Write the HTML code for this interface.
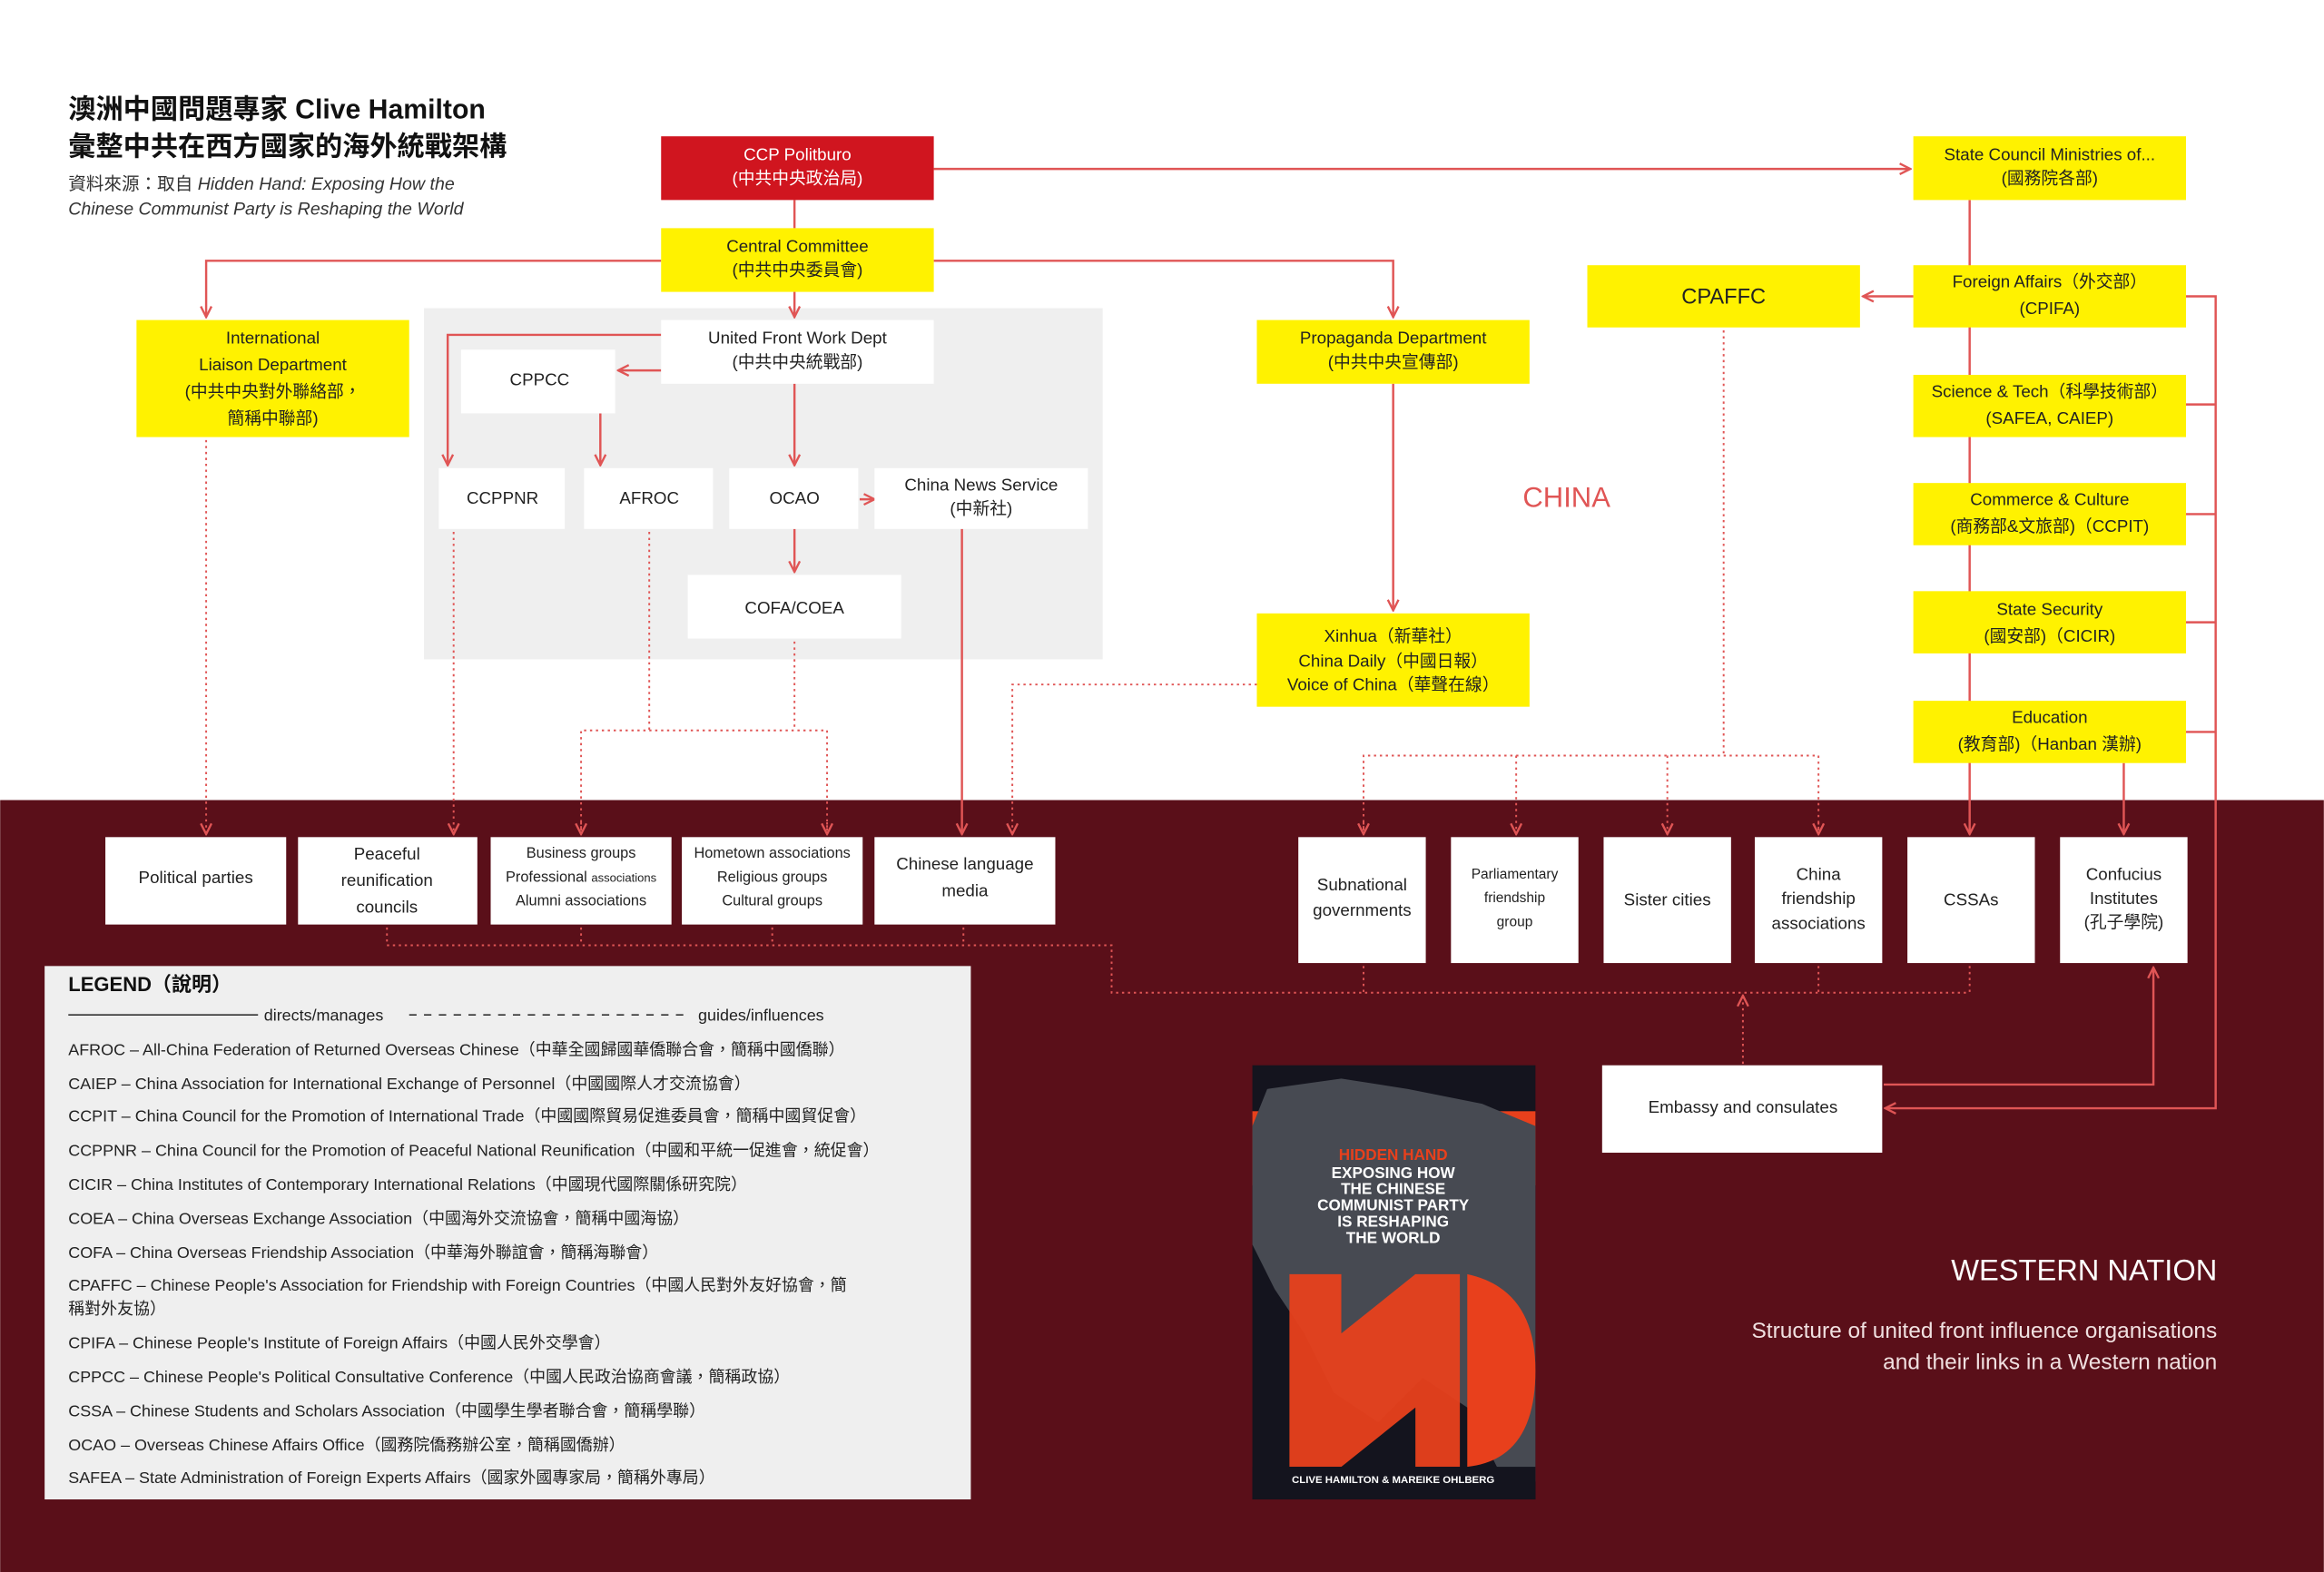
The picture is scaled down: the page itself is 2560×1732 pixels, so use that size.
<!DOCTYPE html>
<html><head><meta charset="utf-8"><style>
html,body{margin:0;padding:0;background:#fff}
svg{display:block}
text{font-family:"Liberation Sans","Noto Sans CJK TC",sans-serif}
</style></head><body>
<svg width="2560" height="1732" viewBox="0 0 1568 1061" xmlns="http://www.w3.org/2000/svg">
<defs>
<marker id="a" viewBox="0 0 10 10" refX="9" refY="5" markerWidth="9" markerHeight="9" markerUnits="userSpaceOnUse" orient="auto">
<polyline points="1,1 9,5 1,9" fill="none" stroke="#e05555" stroke-width="1.6"/></marker>
</defs>
<rect x="0" y="0" width="1568" height="540" fill="#fff"/>
<rect x="0" y="540" width="1568" height="521" fill="#5a0f19"/>
<!-- title -->
<text x="46" y="80" font-size="18.5" font-weight="bold" fill="#111">澳洲中國問題專家 Clive Hamilton</text>
<text x="46" y="105" font-size="18.5" font-weight="bold" fill="#111">彙整中共在西方國家的海外統戰架構</text>
<text x="46" y="128" font-size="12" fill="#333">資料來源：取自 <tspan font-style="italic">Hidden Hand: Exposing How the</tspan></text>
<text x="46" y="145" font-size="12" fill="#333" font-style="italic">Chinese Communist Party is Reshaping the World</text>
<!-- gray area -->
<rect x="286" y="208" width="458" height="237" fill="#efefef"/>
<g stroke="#e05555" stroke-width="1.5" fill="none">
<line x1="630" y1="114" x2="1289" y2="114" marker-end="url(#a)"/>
<line x1="536" y1="135" x2="536" y2="154"/>
<polyline points="446,176 139,176 139,214" marker-end="url(#a)"/>
<polyline points="630,176 940,176 940,214" marker-end="url(#a)"/>
<line x1="536" y1="197" x2="536" y2="214" marker-end="url(#a)"/>
<line x1="446" y1="250" x2="417" y2="250" marker-end="url(#a)"/>
<polyline points="446,226 302,226 302,314" marker-end="url(#a)"/>
<line x1="405" y1="279" x2="405" y2="314" marker-end="url(#a)"/>
<line x1="536" y1="259" x2="536" y2="314" marker-end="url(#a)"/>
<line x1="580" y1="337" x2="590" y2="337" marker-end="url(#a)"/>
<line x1="536" y1="357" x2="536" y2="386" marker-end="url(#a)"/>
<line x1="649" y1="357" x2="649" y2="563" marker-end="url(#a)"/>
<line x1="940" y1="259" x2="940" y2="412" marker-end="url(#a)"/>
<line x1="1329" y1="135" x2="1329" y2="563" marker-end="url(#a)"/>
<line x1="1291" y1="200" x2="1257" y2="200" marker-end="url(#a)"/>
<polyline points="1475,200 1495,200 1495,748 1272,748" marker-end="url(#a)"/>
<line x1="1475" y1="273" x2="1495" y2="273"/>
<line x1="1475" y1="347" x2="1495" y2="347"/>
<line x1="1475" y1="420" x2="1495" y2="420"/>
<line x1="1475" y1="494" x2="1495" y2="494"/>
<line x1="1433" y1="515" x2="1433" y2="563" marker-end="url(#a)"/>
<polyline points="1271,732 1453,732 1453,653" marker-end="url(#a)"/>
</g>
<g stroke="#e05555" stroke-width="1.2" fill="none" stroke-dasharray="1.5 2.5">
<line x1="139" y1="297" x2="139" y2="563" marker-end="url(#a)"/>
<line x1="306" y1="359" x2="306" y2="563" marker-end="url(#a)"/>
<line x1="438" y1="359" x2="438" y2="493"/>
<line x1="536" y1="433" x2="536" y2="493"/>
<polyline points="392,563 392,493 558,493 558,563"/>
<line x1="392" y1="555" x2="392" y2="563" marker-end="url(#a)"/>
<line x1="558" y1="555" x2="558" y2="563" marker-end="url(#a)"/>
<polyline points="848,462 683,462 683,563" marker-end="url(#a)"/>
<line x1="1163" y1="223" x2="1163" y2="510"/>
<polyline points="920,563 920,510 1227,510 1227,563"/>
<line x1="920" y1="555" x2="920" y2="563" marker-end="url(#a)"/>
<line x1="1023" y1="510" x2="1023" y2="563" marker-end="url(#a)"/>
<line x1="1125" y1="510" x2="1125" y2="563" marker-end="url(#a)"/>
<line x1="1227" y1="555" x2="1227" y2="563" marker-end="url(#a)"/>
<line x1="261" y1="626" x2="261" y2="638"/>
<line x1="392" y1="626" x2="392" y2="638"/>
<line x1="521" y1="626" x2="521" y2="638"/>
<line x1="650" y1="626" x2="650" y2="638"/>
<polyline points="261,638 750,638 750,670 1329,670"/>
<line x1="920" y1="652" x2="920" y2="670"/>
<line x1="1227" y1="652" x2="1227" y2="670"/>
<line x1="1329" y1="652" x2="1329" y2="670"/>
<line x1="1176" y1="718" x2="1176" y2="672" marker-end="url(#a)"/>
</g>
<!-- boxes -->
<rect x="446" y="92" width="184" height="43" fill="#d0151f"/>
<text x="538" y="108" font-size="11.5" fill="#fff" text-anchor="middle">CCP Politburo</text>
<text x="538" y="124" font-size="11.5" fill="#fff" text-anchor="middle">(中共中央政治局)</text>
<g fill="#fff200">
<rect x="446" y="154" width="184" height="43"/>
<rect x="92" y="216" width="184" height="79"/>
<rect x="848" y="216" width="184" height="43"/>
<rect x="848" y="414" width="184" height="63"/>
<rect x="1291" y="92" width="184" height="43"/>
<rect x="1071" y="179" width="184" height="42"/>
<rect x="1291" y="179" width="184" height="42"/>
<rect x="1291" y="253" width="184" height="42"/>
<rect x="1291" y="326" width="184" height="42"/>
<rect x="1291" y="399" width="184" height="42"/>
<rect x="1291" y="473" width="184" height="42"/>
</g>
<g fill="#fff">
<rect x="446" y="216" width="184" height="43"/>
<rect x="311" y="236" width="104" height="43"/>
<rect x="296" y="316" width="85" height="41"/>
<rect x="394" y="316" width="87" height="41"/>
<rect x="492" y="316" width="87" height="41"/>
<rect x="590" y="316" width="144" height="41"/>
<rect x="464" y="388" width="144" height="43"/>
<rect x="71" y="565" width="122" height="59"/>
<rect x="201" y="565" width="121" height="59"/>
<rect x="331" y="565" width="122" height="59"/>
<rect x="460" y="565" width="122" height="59"/>
<rect x="590" y="565" width="122" height="59"/>
<rect x="876" y="565" width="86" height="85"/>
<rect x="979" y="565" width="86" height="85"/>
<rect x="1082" y="565" width="86" height="85"/>
<rect x="1184" y="565" width="86" height="85"/>
<rect x="1287" y="565" width="86" height="85"/>
<rect x="1390" y="565" width="86" height="85"/>
<rect x="1081" y="719" width="189" height="59"/>
</g>
<g font-size="11.5" fill="#222" text-anchor="middle">
<text x="538" y="170">Central Committee</text><text x="538" y="186">(中共中央委員會)</text>
<text x="184" y="232">International</text><text x="184" y="250">Liaison Department</text><text x="184" y="268">(中共中央對外聯絡部，</text><text x="184" y="286">簡稱中聯部)</text>
<text x="538" y="232">United Front Work Dept</text><text x="538" y="248">(中共中央統戰部)</text>
<text x="364" y="260">CPPCC</text>
<text x="339" y="340">CCPPNR</text>
<text x="438" y="340">AFROC</text>
<text x="536" y="340">OCAO</text>
<text x="662" y="331">China News Service</text><text x="662" y="347">(中新社)</text>
<text x="536" y="414">COFA/COEA</text>
<text x="940" y="232">Propaganda Department</text><text x="940" y="248">(中共中央宣傳部)</text>
<text x="940" y="433">Xinhua（新華社）</text><text x="940" y="450">China Daily（中國日報）</text><text x="940" y="466">Voice of China（華聲在線）</text>
<text x="1383" y="108">State Council Ministries of...</text><text x="1383" y="124">(國務院各部)</text>
<text x="1163" y="205" font-size="14.5">CPAFFC</text>
<text x="1383" y="194">Foreign Affairs（外交部）</text><text x="1383" y="212">(CPIFA)</text>
<text x="1383" y="268">Science &amp; Tech（科學技術部）</text><text x="1383" y="286">(SAFEA, CAIEP)</text>
<text x="1383" y="341">Commerce &amp; Culture</text><text x="1383" y="359">(商務部&amp;文旅部)（CCPIT)</text>
<text x="1383" y="415">State Security</text><text x="1383" y="433">(國安部)（CICIR)</text>
<text x="1383" y="488">Education</text><text x="1383" y="506">(教育部)（Hanban 漢辦)</text>
<text x="132" y="596">Political parties</text>
<text x="261" y="580">Peaceful</text><text x="261" y="598">reunification</text><text x="261" y="616">councils</text>
<text x="392" y="579" font-size="10">Business groups</text><text x="392" y="595" font-size="10">Professional <tspan font-size="8">associations</tspan></text><text x="392" y="611" font-size="10">Alumni associations</text>
<text x="521" y="579" font-size="10">Hometown associations</text><text x="521" y="595" font-size="10">Religious groups</text><text x="521" y="611" font-size="10">Cultural groups</text>
<text x="651" y="587">Chinese language</text><text x="651" y="605">media</text>
<text x="919" y="601">Subnational</text><text x="919" y="618">governments</text>
<text x="1022" y="593" font-size="9.5">Parliamentary</text><text x="1022" y="609" font-size="9.5">friendship</text><text x="1022" y="625" font-size="9.5">group</text>
<text x="1125" y="611">Sister cities</text>
<text x="1227" y="594">China</text><text x="1227" y="610">friendship</text><text x="1227" y="627">associations</text>
<text x="1330" y="611">CSSAs</text>
<text x="1433" y="594">Confucius</text><text x="1433" y="610">Institutes</text><text x="1433" y="626">(孔子學院)</text>
<text x="1176" y="751">Embassy and consulates</text>
</g>
<text x="1057" y="342" font-size="19" fill="#e05555" text-anchor="middle">CHINA</text>
<!-- legend -->
<rect x="30" y="652" width="625" height="360" fill="#efefef"/>
<text x="46" y="669" font-size="13.5" font-weight="bold" fill="#111">LEGEND（說明）</text>
<line x1="46" y1="685" x2="174" y2="685" stroke="#333" stroke-width="1"/>
<text x="178" y="689" font-size="11" fill="#222">directs/manages</text>
<line x1="276" y1="685" x2="466" y2="685" stroke="#333" stroke-width="1" stroke-dasharray="5 5"/>
<text x="471" y="689" font-size="11" fill="#222">guides/influences</text>
<g font-size="11" fill="#222">
<text x="46" y="712">AFROC – All-China Federation of Returned Overseas Chinese（中華全國歸國華僑聯合會，簡稱中國僑聯）</text>
<text x="46" y="735">CAIEP – China Association for International Exchange of Personnel（中國國際人才交流協會）</text>
<text x="46" y="757">CCPIT – China Council for the Promotion of International Trade（中國國際貿易促進委員會，簡稱中國貿促會）</text>
<text x="46" y="780">CCPPNR – China Council for the Promotion of Peaceful National Reunification（中國和平統一促進會，統促會）</text>
<text x="46" y="803">CICIR – China Institutes of Contemporary International Relations（中國現代國際關係研究院）</text>
<text x="46" y="826">COEA – China Overseas Exchange Association（中國海外交流協會，簡稱中國海協）</text>
<text x="46" y="849">COFA – China Overseas Friendship Association（中華海外聯誼會，簡稱海聯會）</text>
<text x="46" y="871">CPAFFC – Chinese People's Association for Friendship with Foreign Countries（中國人民對外友好協會，簡</text>
<text x="46" y="887">稱對外友協）</text>
<text x="46" y="910">CPIFA – Chinese People's Institute of Foreign Affairs（中國人民外交學會）</text>
<text x="46" y="933">CPPCC – Chinese People's Political Consultative Conference（中國人民政治協商會議，簡稱政協）</text>
<text x="46" y="956">CSSA – Chinese Students and Scholars Association（中國學生學者聯合會，簡稱學聯）</text>
<text x="46" y="979">OCAO – Overseas Chinese Affairs Office（國務院僑務辦公室，簡稱國僑辦）</text>
<text x="46" y="1001">SAFEA – State Administration of Foreign Experts Affairs（國家外國專家局，簡稱外專局）</text>
</g>
<!-- book -->
<g>
<rect x="845" y="719" width="191" height="293" fill="#14141e"/>
<rect x="845" y="750" width="191" height="50" fill="#e8401c"/>
<path d="M855 735 L905 728 L950 735 L1000 745 L1036 760 L1036 1000 L1010 990 L990 950 L960 930 L930 960 L900 940 L880 900 L860 870 L845 840 L845 760 Z" fill="#474a52"/>
<path d="M870 860 L905 860 L905 900 L955 860 L985 860 L985 990 L955 990 L955 950 L905 990 L870 990 Z" fill="#e8401c" opacity="0.95"/>
<path d="M990 860 Q1036 870 1036 925 Q1036 985 990 990 Z" fill="#e8401c"/>
<rect x="845" y="990" width="191" height="22" fill="#14141e"/>
<g font-size="10.5" font-weight="bold" text-anchor="middle" fill="#fff">
<text x="940" y="783" fill="#e8401c">HIDDEN HAND</text>
<text x="940" y="795">EXPOSING HOW</text>
<text x="940" y="806">THE CHINESE</text>
<text x="940" y="817">COMMUNIST PARTY</text>
<text x="940" y="828">IS RESHAPING</text>
<text x="940" y="839">THE WORLD</text>
<text x="940" y="1001" font-size="7">CLIVE HAMILTON &amp; MAREIKE OHLBERG</text>
</g>
</g>
<text x="1496" y="864" font-size="20" fill="#fff" text-anchor="end">WESTERN NATION</text>
<text x="1496" y="903" font-size="15" fill="#f0e0e0" text-anchor="end">Structure of united front influence organisations</text>
<text x="1496" y="924" font-size="15" fill="#f0e0e0" text-anchor="end">and their links in a Western nation</text>
</svg>
</body></html>
